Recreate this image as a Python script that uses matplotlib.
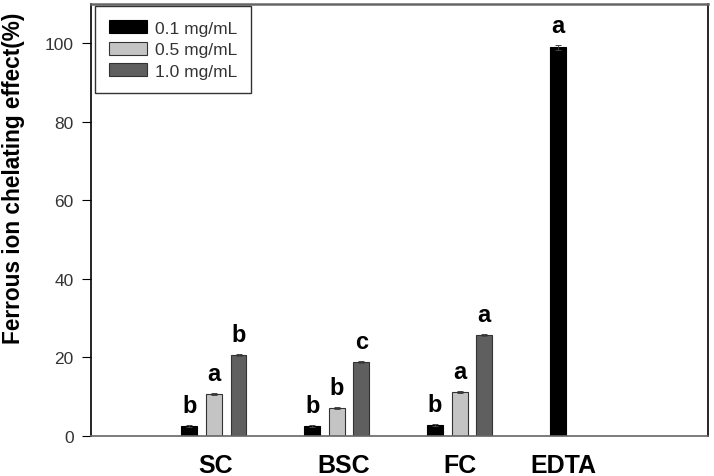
import numpy as np
import matplotlib.pyplot as plt

plt.rcParams['font.family'] = ['Liberation Sans', 'DejaVu Sans']

# data
groups = ['SC', 'BSC', 'FC', 'EDTA']
conc_labels = ['0.1 mg/mL', '0.5 mg/mL', '1.0 mg/mL']
vals_01 = [2.5, 2.5, 2.8, 99.0]
vals_05 = [10.7, 7.1, 11.2]
vals_10 = [20.7, 18.9, 25.8]
err_01 = [0.2, 0.2, 0.2, 0.6]
err_05 = [0.2, 0.2, 0.2]
err_10 = [0.3, 0.3, 0.3]
let_01 = ['b', 'b', 'b', 'a']
let_05 = ['a', 'b', 'a']
let_10 = ['b', 'c', 'a']

colors = ['#000000', '#c4c4c4', '#5f5f5f']

fig = plt.figure(figsize=(7.14, 4.77), dpi=100)
ax = fig.add_axes([0.1275, 0.084, 0.864, 0.905])

x = np.arange(len(groups))
w = 0.13
off = 0.2

ekw = dict(ecolor='#444444', elinewidth=0.7, capsize=2.5, capthick=0.7)
ax.bar(x - off, vals_01, w, color=colors[0], edgecolor='black', linewidth=0.8,
       yerr=err_01, error_kw=ekw, label=conc_labels[0])
ax.bar(x[:3], vals_05, w, color=colors[1], edgecolor='#333333', linewidth=0.8,
       yerr=err_05, error_kw=ekw, label=conc_labels[1])
ax.bar(x[:3] + off, vals_10, w, color=colors[2], edgecolor='#333333', linewidth=0.8,
       yerr=err_10, error_kw=ekw, label=conc_labels[2])

# significance letters
for xs, vs, es, ls in [(x - off, vals_01, err_01, let_01),
                       (x[:3], vals_05, err_05, let_05),
                       (x[:3] + off, vals_10, err_10, let_10)]:
    for xi, v, e, l in zip(xs, vs, es, ls):
        ax.text(xi, v + e + 2.0, l, ha='center', va='bottom', fontsize=17,
                fontweight='bold')

ax.set_xlim(-1, 4.02)
ax.set_ylim(0, 110)
ax.set_yticks([0, 20, 40, 60, 80, 100])
ax.tick_params(axis='y', direction='out', length=6.5, pad=6, labelsize=12.5,
               labelcolor='#333333')
ax.set_xticks([])
ax.set_ylabel('Ferrous ion chelating effect(%)', fontsize=16.3, fontweight='bold')
ax.yaxis.set_label_coords(-0.107, 0.6)

label_x = [0.01, 1.06, 2.0, 2.84]
for lx, g in zip(label_x, groups):
    ax.text(lx, -7.3, g, ha='center', va='center', fontsize=18, fontweight='bold',
            clip_on=False)

for s in ['left', 'right']:
    ax.spines[s].set_color('black')
    ax.spines[s].set_linewidth(1.2)
ax.spines['top'].set_color('#666666')
ax.spines['top'].set_linewidth(1.8)
ax.spines['bottom'].set_color('#666666')
ax.spines['bottom'].set_linewidth(1.2)

leg = ax.legend(loc='upper left', bbox_to_anchor=(0.0065, 0.995), fontsize=12.5,
                frameon=True, fancybox=False, edgecolor='black', borderpad=0.8,
                handlelength=2.2, handleheight=0.75, labelspacing=0.35,
                handletextpad=0.45, borderaxespad=0.0)
leg.get_frame().set_linewidth(1.0)
for t in leg.get_texts():
    t.set_color('#333333')

fig.savefig('out.png', dpi=100)
